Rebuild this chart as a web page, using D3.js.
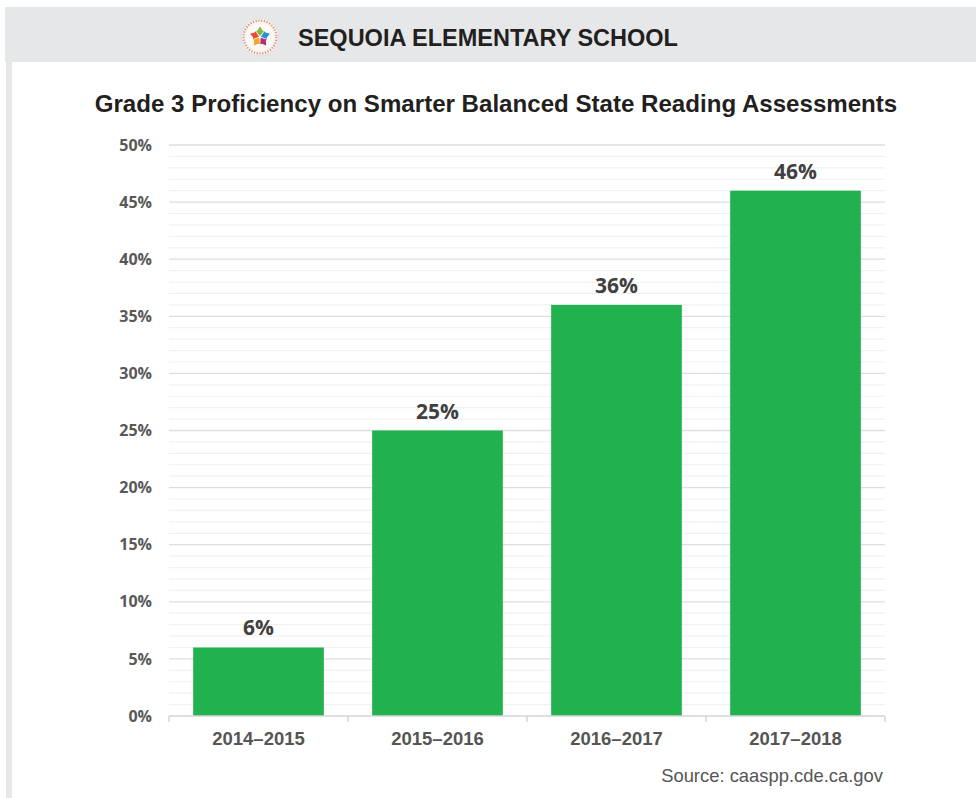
<!DOCTYPE html>
<html>
<head>
<meta charset="utf-8">
<script src="https://cdn.jsdelivr.net/npm/d3@7"></script>
<style>
  body { margin: 0; background: #fff; }
  svg { display: block; }
</style>
</head>
<body>
<script>
// chart values
var years = ["2014–2015", "2015–2016", "2016–2017", "2017–2018"];
var proficiency = [6, 25, 36, 46];
var yTicks = [0, 5, 10, 15, 20, 25, 30, 35, 40, 45, 50];
var schoolName = "SEQUOIA ELEMENTARY SCHOOL";
var chartTitle = "Grade 3 Proficiency on Smarter Balanced State Reading Assessments";
var sourceNote = "Source: caaspp.cde.ca.gov";
var logoColors = ["#e94b35", "#7dba3e", "#2b8fd6", "#b0307c", "#f6a623"];

var width = 976,
    height = 798,
    plotLeft = 169,
    plotRight = 885,
    plotTop = 145,
    plotBottom = 716;

var data = years.map(function (y, i) { return {year: y, value: proficiency[i]}; });

var svg = d3.select("body").append("svg")
    .attr("width", width)
    .attr("height", height);

// header band + left frame strip
svg.append("rect")
    .attr("x", 5).attr("y", 7)
    .attr("width", width - 5).attr("height", 55)
    .attr("fill", "#e6e7e8");
svg.append("rect")
    .attr("x", 6).attr("y", 62)
    .attr("width", 6).attr("height", height - 62)
    .attr("fill", "#e6e7e8");

// logo
var logo = svg.append("g").attr("transform", "translate(260,37)");
logo.append("circle").attr("r", 19).attr("fill", "#f7f4ef").attr("stroke", "#e2ddd5");
logo.append("circle").attr("r", 16.5).attr("fill", "none")
    .attr("stroke", "#d98a80").attr("stroke-width", 2.2).attr("stroke-dasharray", "1.2 1.6");
logo.append("circle").attr("r", 13.5).attr("fill", "#fbf9f6");
logo.selectAll("path.petal")
    .data(logoColors)
  .enter().append("path")
    .attr("class", "petal")
    .attr("d", "M0,-1 L-4,-6 L-2.5,-6.5 L0,-10.5 L2.5,-6.5 L4,-6 Z")
    .attr("fill", function (d) { return d; })
    .attr("transform", function (d, i) { return "rotate(" + (-72 + i * 72) + ")"; });

svg.append("text")
    .attr("x", 298).attr("y", 46)
    .attr("font-family", "Liberation Sans, Arial, sans-serif")
    .attr("font-weight", "bold")
    .attr("font-size", 23.5)
    .attr("fill", "#231f20")
    .text(schoolName);

svg.append("text")
    .attr("x", 496).attr("y", 112)
    .attr("text-anchor", "middle")
    .attr("font-family", "Liberation Sans, Arial, sans-serif")
    .attr("font-weight", "bold")
    .attr("font-size", 24.1)
    .attr("fill", "#231f20")
    .text(chartTitle);

var x = d3.scaleBand()
    .domain(years)
    .range([plotLeft, plotRight])
    .paddingInner(0.27)
    .paddingOuter(0.135);

var y = d3.scaleLinear()
    .domain([0, 50])
    .range([plotBottom, plotTop]);

// minor grid (every 1%)
svg.append("g")
    .selectAll("line")
    .data(d3.range(1, 50).filter(function (d) { return d % 5 !== 0; }))
  .enter().append("line")
    .attr("x1", plotLeft).attr("x2", plotRight)
    .attr("y1", function (d) { return y(d); })
    .attr("y2", function (d) { return y(d); })
    .attr("stroke", "#f1f1f1")
    .attr("stroke-width", 1.2);

// major grid
svg.append("g")
    .selectAll("line")
    .data(yTicks.slice(1))
  .enter().append("line")
    .attr("x1", plotLeft).attr("x2", plotRight)
    .attr("y1", function (d) { return y(d); })
    .attr("y2", function (d) { return y(d); })
    .attr("stroke", "#dedede")
    .attr("stroke-width", 1.3);

// y labels
var yAxis = d3.axisLeft(y)
    .tickValues(yTicks)
    .tickFormat(function (d) { return d + "%"; })
    .tickSize(0)
    .tickPadding(17);

svg.append("g")
    .attr("transform", "translate(" + plotLeft + ",0)")
    .call(yAxis)
    .call(function (g) { g.select(".domain").remove(); })
    .selectAll("text")
    .attr("font-family", "Open Sans, sans-serif")
    .attr("font-weight", "bold")
    .attr("font-size", 16)
    .attr("fill", "#595959");

// bars
svg.append("g")
    .selectAll("rect")
    .data(data)
  .enter().append("rect")
    .attr("x", function (d) { return x(d.year); })
    .attr("y", function (d) { return y(d.value); })
    .attr("width", x.bandwidth())
    .attr("height", function (d) { return y(0) - y(d.value); })
    .attr("fill", "#21b14f");

// value labels
svg.append("g")
    .selectAll("text")
    .data(data)
  .enter().append("text")
    .attr("x", function (d) { return x(d.year) + x.bandwidth() / 2; })
    .attr("y", function (d) { return y(d.value) - 12; })
    .attr("text-anchor", "middle")
    .attr("font-family", "Open Sans, sans-serif")
    .attr("font-weight", "bold")
    .attr("font-size", 21)
    .attr("fill", "#404040")
    .text(function (d) { return d.value + "%"; });

// baseline and category boundary ticks
svg.append("line")
    .attr("x1", plotLeft).attr("x2", plotRight)
    .attr("y1", y(0)).attr("y2", y(0))
    .attr("stroke", "#d4d4d4")
    .attr("stroke-width", 1.5);

var gap = x.step() * x.paddingInner() / 2;
var bounds = [plotLeft].concat(years.map(function (d) { return x(d) + x.bandwidth() + gap; }));
bounds[bounds.length - 1] = plotRight;
svg.append("g")
    .selectAll("line")
    .data(bounds)
  .enter().append("line")
    .attr("x1", function (d) { return d; })
    .attr("x2", function (d) { return d; })
    .attr("y1", y(0)).attr("y2", y(0) + 6)
    .attr("stroke", "#d4d4d4")
    .attr("stroke-width", 1.5);

// x labels
var xAxis = d3.axisBottom(x).tickSize(0).tickPadding(16);
svg.append("g")
    .attr("transform", "translate(0," + plotBottom + ")")
    .call(xAxis)
    .call(function (g) { g.select(".domain").remove(); })
    .selectAll("text")
    .attr("font-family", "Liberation Sans, Arial, sans-serif")
    .attr("font-weight", "bold")
    .attr("font-size", 18.5)
    .attr("fill", "#555");

svg.append("text")
    .attr("x", 883).attr("y", 782)
    .attr("text-anchor", "end")
    .attr("font-family", "Liberation Sans, Arial, sans-serif")
    .attr("font-size", 18.4)
    .attr("fill", "#555")
    .text(sourceNote);
</script>
</body>
</html>
